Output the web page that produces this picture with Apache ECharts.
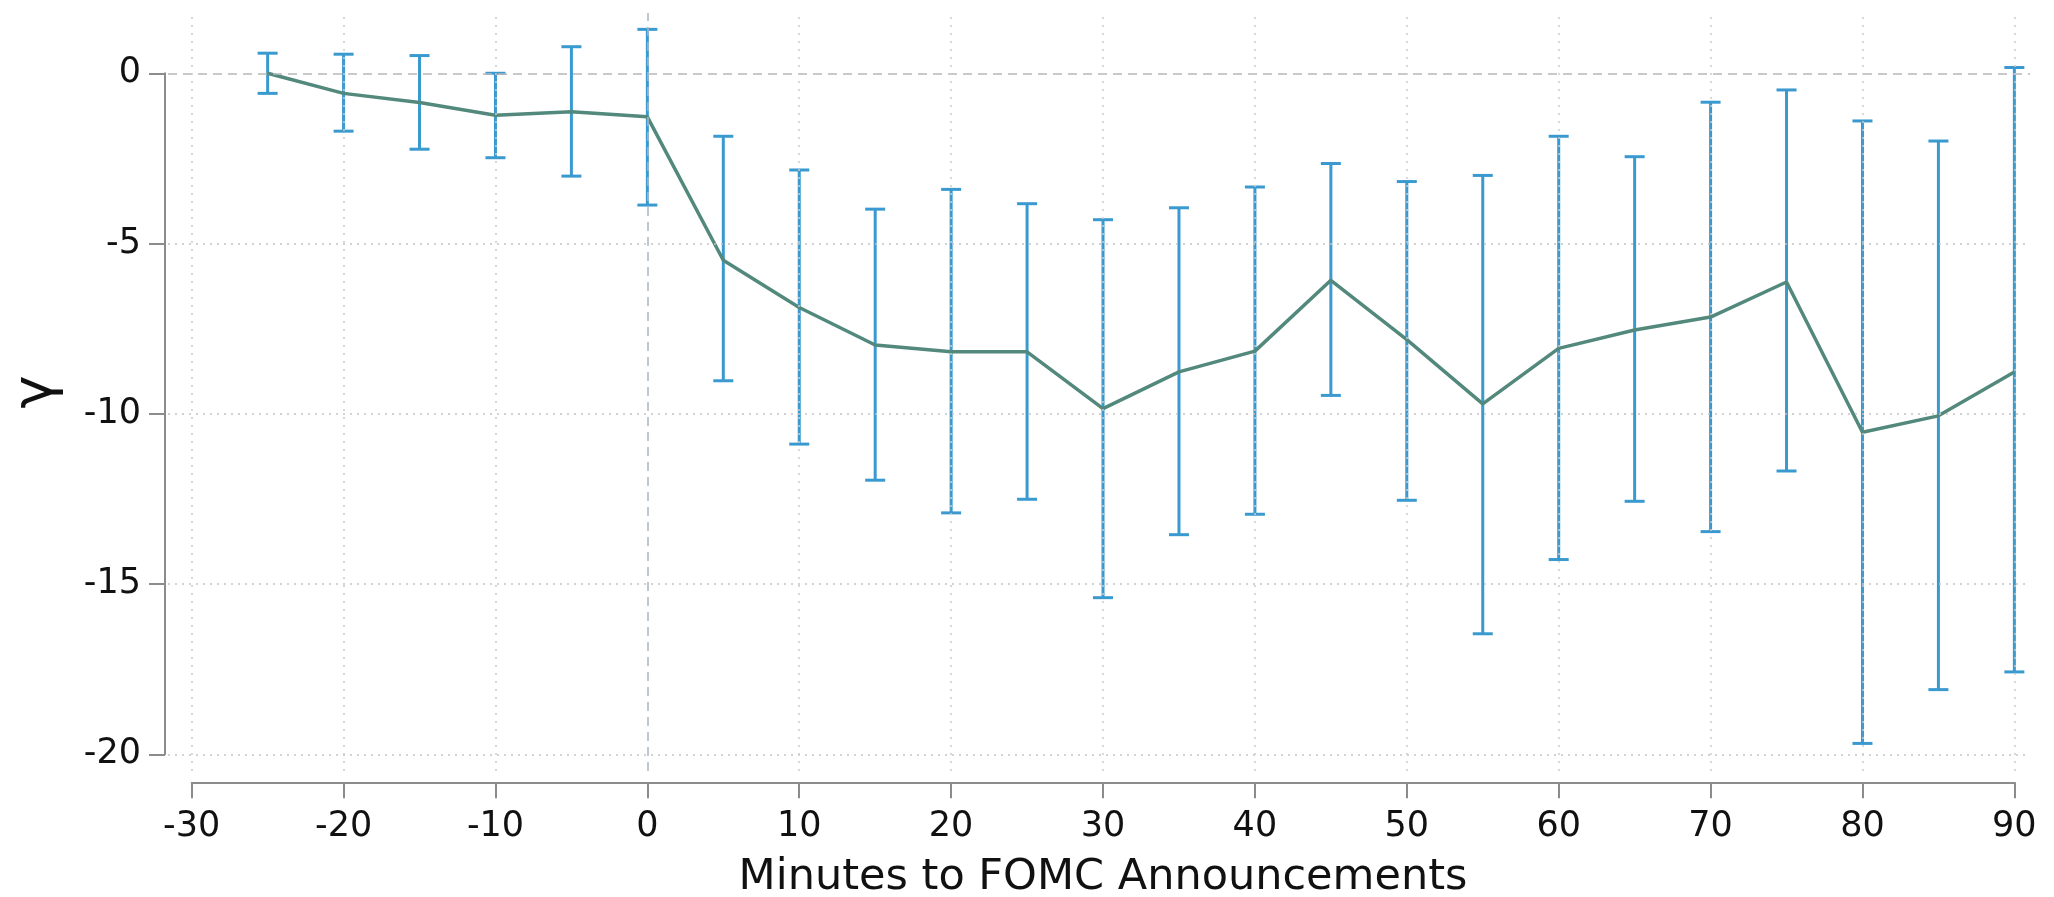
<!DOCTYPE html>
<html>
<head>
<meta charset="utf-8">
<title>Minutes to FOMC Announcements</title>
<script src="https://cdn.jsdelivr.net/npm/echarts@6/dist/echarts.min.js"></script>
<style>
  html, body { margin: 0; padding: 0; background: #ffffff; }
  #chart { width: 2054px; height: 897px; }
</style>
</head>
<body>
<div id="chart"></div>
<script>
// minutes relative to the announcement
const minutes = [-25, -20, -15, -10, -5, 0, 5, 10, 15, 20, 25, 30, 35, 40, 45, 50, 55, 60, 65, 70, 75, 80, 85, 90];
// point estimate of gamma
const gamma = [0, -0.59, -0.86, -1.23, -1.13, -1.28, -5.49, -6.88, -7.98, -8.18, -8.18, -9.85, -8.77, -8.16, -6.08, -7.82, -9.71, -8.08, -7.54, -7.16, -6.13, -10.54, -10.06, -8.77];
// confidence band
const upper = [0.59, 0.56, 0.52, 0.0, 0.78, 1.29, -1.85, -2.84, -3.99, -3.41, -3.83, -4.30, -3.95, -3.34, -2.65, -3.18, -3.00, -1.85, -2.45, -0.85, -0.49, -1.40, -1.99, 0.17];
const lower = [-0.59, -1.70, -2.23, -2.48, -3.02, -3.87, -9.03, -10.89, -11.95, -12.91, -12.51, -15.40, -13.55, -12.95, -9.46, -12.54, -16.46, -14.28, -12.57, -13.46, -11.68, -19.68, -18.10, -17.58];

// tick labels
const xTicks = [-30, -20, -10, 0, 10, 20, 30, 40, 50, 60, 70, 80, 90];
const yTicks = [0, -5, -10, -15, -20];

const LINE_COLOR = '#52897c';
const BAR_COLOR = '#3a9ad0';
const FONT = 'DejaVu Sans';

// plot region is a bit wider than the tick range (stata style)
const xExt = [-31.56, 91.03];
const yExt = [-20.49, 1.77];

let chart = echarts.init(document.getElementById('chart'), null, {renderer: 'canvas'});

// gridlines drawn as marklines so they can run past the axis range
let gridLines = [];
yTicks.forEach(function (v) {
  gridLines.push({
    yAxis: v,
    lineStyle: v === 0
      ? {color: '#b8b8b8', width: 1.5, type: [9, 6]}
      : {color: '#c4c4c4', width: 1.5, type: [2, 5]}
  });
});
xTicks.forEach(function (v) {
  gridLines.push({
    xAxis: v,
    lineStyle: v === 0
      ? {color: '#a9b6c4', width: 1.5, type: [9, 6]}
      : {color: '#cccccc', width: 1.5, type: [2, 6]}
  });
});

const option = {
  backgroundColor: '#ffffff',
  animation: false,
  grid: [
    {left: 168, right: 24, top: 13, bottom: 126, outerBoundsMode: 'none'},
    {left: 191.7, right: 39.7, top: 73.3, bottom: 142.7, outerBoundsMode: 'none'}
  ],
  xAxis: [
    {gridIndex: 0, type: 'value', min: xExt[0], max: xExt[1], show: false},
    {
      gridIndex: 1, type: 'value', min: -30, max: 90, interval: 10, offset: 28,
      axisLine: {show: true, onZero: false, lineStyle: {color: '#8c8c8c', width: 2}},
      axisTick: {show: true, length: 16, lineStyle: {color: '#8c8c8c', width: 2}},
      axisLabel: {fontFamily: FONT, fontSize: 35, color: '#111', margin: 27},
      splitLine: {show: false},
      name: 'Minutes to FOMC Announcements',
      nameLocation: 'middle',
      nameGap: 74,
      nameTextStyle: {fontFamily: FONT, fontSize: 43, color: '#111'}
    }
  ],
  yAxis: [
    {
      gridIndex: 0, type: 'value', min: yExt[0], max: yExt[1],
      axisLine: {show: false}, axisTick: {show: false}, axisLabel: {show: false},
      splitLine: {show: false},
      name: 'γ',
      nameLocation: 'middle',
      nameRotate: 90,
      nameGap: 104,
      nameTextStyle: {fontFamily: FONT, fontSize: 56, color: '#111'}
    },
    {
      gridIndex: 1, type: 'value', min: -20, max: 0, interval: 5, offset: 26.7,
      axisLine: {show: true, onZero: false, lineStyle: {color: '#8c8c8c', width: 2}},
      axisTick: {show: true, length: 16, lineStyle: {color: '#8c8c8c', width: 2}},
      axisLabel: {fontFamily: FONT, fontSize: 35, color: '#111', margin: 24},
      splitLine: {show: false}
    }
  ],
  series: [
    {
      // holder for the gridlines
      type: 'line',
      xAxisIndex: 0, yAxisIndex: 0,
      data: [],
      z: 1,
      markLine: {
        silent: true,
        symbol: 'none',
        label: {show: false},
        data: gridLines
      }
    },
    {
      type: 'custom',
      xAxisIndex: 0, yAxisIndex: 0,
      z: 3,
      data: minutes.map(function (m, i) { return [m, upper[i], lower[i]]; }),
      encode: {x: 0, y: [1, 2]},
      renderItem: function (params, api) {
        const x = api.value(0);
        const top = api.coord([x, api.value(1)]);
        const bot = api.coord([x, api.value(2)]);
        const half = 10;
        const style = {stroke: BAR_COLOR, lineWidth: 3};
        return {
          type: 'group',
          children: [
            {type: 'line', shape: {x1: top[0], y1: top[1], x2: bot[0], y2: bot[1]}, style: style},
            {type: 'line', shape: {x1: top[0] - half, y1: top[1], x2: top[0] + half, y2: top[1]}, style: style},
            {type: 'line', shape: {x1: bot[0] - half, y1: bot[1], x2: bot[0] + half, y2: bot[1]}, style: style}
          ]
        };
      }
    },
    {
      type: 'line',
      xAxisIndex: 0, yAxisIndex: 0,
      z: 4,
      data: minutes.map(function (m, i) { return [m, gamma[i]]; }),
      showSymbol: false,
      lineStyle: {color: LINE_COLOR, width: 3.5}
    }
  ]
};

chart.setOption(option);
</script>
</body>
</html>
